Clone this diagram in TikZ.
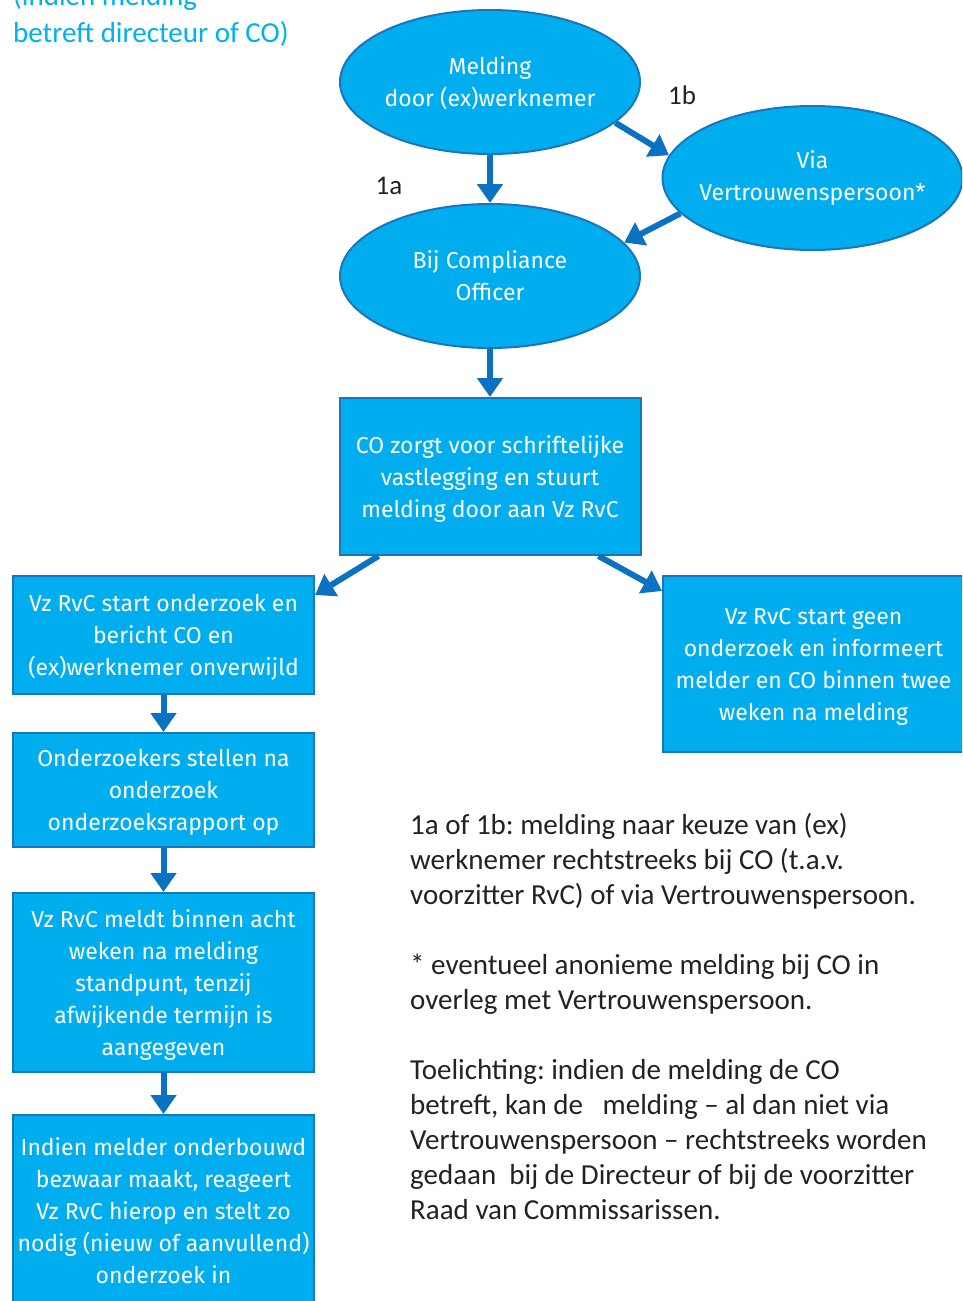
\documentclass[tikz,border=0pt]{standalone}
\usepackage{fontspec}
\setmainfont{Carlito}
\newfontfamily\boxfont{Fira Sans}
\usetikzlibrary{shapes.geometric}
\usetikzlibrary{arrows.meta}
\definecolor{cyanfill}{HTML}{00AEEF}
\definecolor{edgeblue}{HTML}{1B75BB}
\definecolor{arrowblue}{HTML}{0A72C0}
\definecolor{titlecyan}{HTML}{00B0F0}
\definecolor{notegray}{HTML}{222222}
\frenchspacing

\begin{document}
\begin{tikzpicture}[x=1pt, y=-1pt,
oval/.style={ellipse, draw=edgeblue, line width=2pt, fill=cyanfill,
  minimum width=300pt, minimum height=144pt, inner sep=0pt, text depth=0pt,
  text=white, align=center, font=\boxfont\fontsize{23}{32}\selectfont},
stepbox/.style={rectangle, draw=edgeblue, line width=2pt, fill=cyanfill,
  minimum width=301pt, inner sep=0pt, text depth=0pt,
  text=white, align=center, font=\boxfont\fontsize{23}{32}\selectfont},
flow/.style={arrowblue, line width=6pt, -{Triangle[width=25pt,length=19pt]}},
num/.style={text=notegray, font=\fontsize{27}{30}\selectfont}]

\def\W{962}
\def\H{1301}
\def\colL{163.5}
\def\colM{490}

\useasboundingbox (0,0) rectangle (\W,\H);
\clip (0,0) rectangle (\W,\H);

% HEADER
\node[anchor=base west, inner sep=0pt, align=left, text=titlecyan,
  font=\fontsize{29}{37}\selectfont] (head) at (13,42)
  {(indien melding\\betreft directeur of CO)};

% OVALS
\node[oval] (meld) at (\colM,82) {Melding\\door (ex)werknemer};
\node[oval, text depth=, inner xsep=-30pt] (via) at (812.5,178) {Via\\Vertrouwenspersoon*};
\node[oval] (bij) at (\colM,276) {Bij Compliance\\Officer};

\node[num] (la) at (389,186) {1a};
\node[num] (lb) at (682,95) {1b};

% BOXES
\node[stepbox, minimum height=157pt] (co) at (\colM,476.5)
  {CO zorgt voor schriftelijke\\vastlegging en stuurt\\melding door aan Vz RvC};
\node[stepbox, minimum height=118pt] (onderzoek) at (\colL,635)
  {Vz RvC start onderzoek en\\bericht CO en\\(ex)werknemer onverwijld};
\node[stepbox, minimum height=176pt] (geen) at (813.5,664)
  {Vz RvC start geen\\onderzoek en informeert\\melder en CO binnen twee\\weken na melding};
\node[stepbox, minimum height=114pt] (rapport) at (\colL,790)
  {Onderzoekers stellen na\\onderzoek\\onderzoeksrapport op};
\node[stepbox, minimum height=179pt] (standpunt) at (\colL,982.5)
  {Vz RvC meldt binnen acht\\weken na melding\\standpunt, tenzij\\afwijkende termijn is\\aangegeven};
\node[stepbox, minimum height=192pt] (bezwaar) at (\colL,1211)
  {Indien melder onderbouwd\\bezwaar maakt, reageert\\Vz RvC hierop en stelt zo\\nodig (nieuw of aanvullend)\\onderzoek in};

% NOTES
\node[anchor=base west, inner sep=0pt, align=left, text=notegray,
  font=\fontsize{29}{35}\selectfont] (notes) at (410,1219)
  {1a of 1b: melding naar keuze van (ex)\\
   werknemer rechtstreeks bij CO (t.a.v.\\
   voorzitter RvC) of via Vertrouwenspersoon.\\[35pt]
   * eventueel anonieme melding bij CO in\\
   overleg met Vertrouwenspersoon.\\[35pt]
   Toelichting: indien de melding de CO\\
   betreft, kan de\ \ \ melding – al dan niet via\\
   Vertrouwenspersoon – rechtstreeks worden\\
   gedaan\ \ bij de Directeur of bij de voorzitter\\
   Raad van Commissarissen.};

% ARROWS
\draw[flow] (meld) -- (bij);
\draw[flow] (meld.-18) -- (via.171);
\draw[flow] (via.195) -- (bij.14);
\draw[flow] (bij) -- (co);
\draw[flow] ([xshift=40pt]co.south west) -- ([yshift=-20pt]onderzoek.north east);
\draw[flow] ([xshift=-43pt]co.south east) -- ([yshift=-16pt]geen.north west);
\foreach \a/\b in {onderzoek/rapport, rapport/standpunt, standpunt/bezwaar}{
    \draw[flow] (\a) -- (\b);
}

\end{tikzpicture}
\end{document}
